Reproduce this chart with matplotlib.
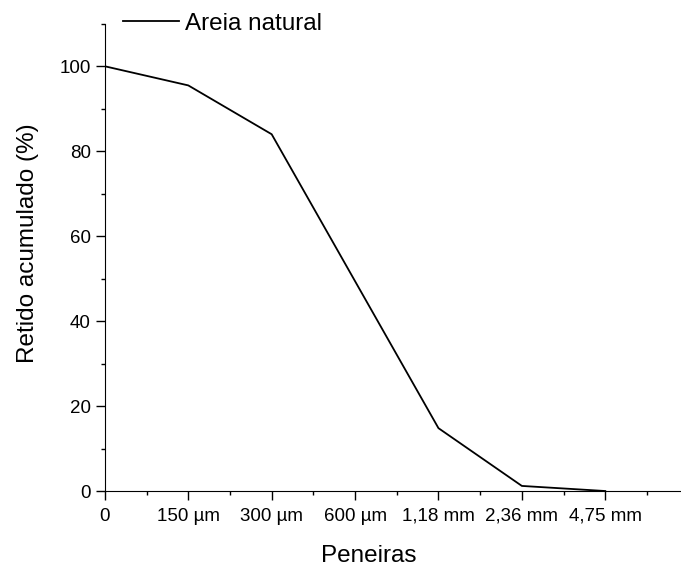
import numpy as np
import matplotlib.pyplot as plt
from matplotlib.ticker import MultipleLocator

plt.rcParams['font.family'] = ['Liberation Sans', 'DejaVu Sans']

peneiras = ["0", "150 µm", "300 µm", "600 µm", "1,18 mm", "2,36 mm", "4,75 mm"]
retido = [100, 95.5, 84, 49.4, 14.8, 1.2, 0]

x = np.arange(len(peneiras))

fig = plt.figure(figsize=(6.81, 5.67), dpi=100)
ax = fig.add_axes([0.154, 0.134, 0.845, 0.824])

ax.plot(x, retido, color='black', lw=1.3, label="Areia natural")

ax.set_xlim(0, 6.9)
ax.set_ylim(0, 110)
ax.set_xticks(x)
ax.set_xticklabels(peneiras)
ax.xaxis.set_minor_locator(MultipleLocator(0.5))
ax.set_yticks([0, 20, 40, 60, 80, 100])
ax.yaxis.set_minor_locator(MultipleLocator(10))

ax.spines['top'].set_visible(False)
ax.spines['right'].set_visible(False)
ax.tick_params(which='major', length=6.5, width=1, labelsize=13.5)
ax.tick_params(axis='x', which='major', pad=5.5)
ax.tick_params(which='minor', length=2.8, width=1)

ax.set_xlabel("Peneiras", fontsize=17.5)
ax.xaxis.set_label_coords(0.459, -0.115)
ax.set_ylabel("Retido acumulado (%)", fontsize=17.5)
ax.yaxis.set_label_coords(-0.114, 0.53)

ax.legend(loc='center left', bbox_to_anchor=(0.031, 1.0), frameon=False,
          borderaxespad=0, borderpad=0, handlelength=2.3, handletextpad=0.25,
          fontsize=17.5)

fig.savefig("out.png", dpi=100)
